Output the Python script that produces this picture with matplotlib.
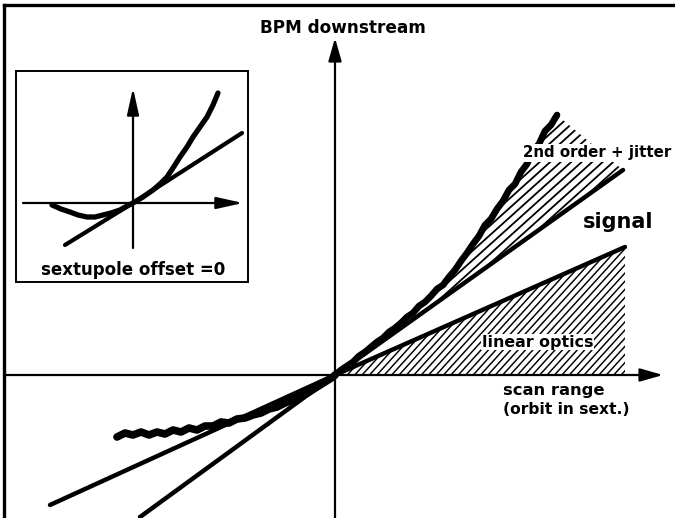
import numpy as np
import matplotlib
matplotlib.use('Agg')
import matplotlib.pyplot as plt
from matplotlib.patches import Polygon

# ---- data (arbitrary units, origin = crossing of the axes) ----
# measured BPM signal vs scan position (sextupole offset != 0)
scan_left = [-218, -210, -202, -194, -186, -178, -170, -162, -154, -146, -138, -130,
             -122, -114, -106, -98, -90, -82, -74, -66, -58, -50, -42, -34, -26, -18, -10, -2, 0]
bpm_left = [-62, -58, -60, -57, -60, -57, -59, -55, -57, -53, -55, -51,
            -51, -47, -48, -44, -43, -40, -38, -34, -32, -28, -25, -21, -17, -12, -7, -2, 0]
scan_right = [0, 6, 12, 18, 24, 30, 36, 42, 48, 54, 60, 66, 72, 78, 84, 90, 96, 102, 108,
              114, 120, 126, 132, 138, 144, 150, 156, 162, 168, 174, 180, 186, 192, 198,
              204, 210, 216, 222]
bpm_right = [0, 5, 9, 13, 19, 23, 28, 33, 37, 43, 47, 52, 58, 62, 69, 73, 79, 86, 90,
             98, 105, 114, 122, 131, 139, 150, 156, 166, 174, 185, 191, 203, 211, 224,
             231, 244, 250, 260]

# straight lines through the origin
steep_x = [-195, 0, 288]
steep_y = [-142, 0, 205]
lin_x = [-285, 0, 290]
lin_y = [-130, 0, 128]

# inset: sextupole offset = 0
in_x = [-81, -72, -63, -55, -46, -38, -30, -22, -13, -6, 0, 10, 20, 27, 34, 40, 47, 54, 60, 67, 74, 80, 85]
in_y = [-2, -6, -9, -12, -14, -14, -12, -10, -7, -3, 0, 6, 13, 19, 26, 35, 46, 56, 66, 76, 86, 98, 110]
in_line_x = [-68, 0, 109]
in_line_y = [-42, 0, 70]


def hatch(ax, px, py, step, slope=1.0, lw=1.2):
    # diagonal hatch lines clipped to a polygon
    patch = Polygon(np.column_stack([px, py]), closed=True, fc='none', ec='none')
    ax.add_patch(patch)
    v0, v1 = min(py) - 5, max(py) + 5
    du = (v1 - v0) / slope
    for c in np.arange(min(px) - du, max(px) + step, step):
        ln, = ax.plot([c, c + du], [v0, v1], color='black', lw=lw, zorder=1)
        ln.set_clip_path(patch)


fig = plt.figure(figsize=(6.75, 5.18), dpi=100)
ax = fig.add_axes([0, 0, 1, 1])
ax.set_xlim(-335, 340)
ax.set_ylim(-143, 375)
ax.axis('off')

# frame (top and left only)
ax.plot([0.006, 1.0], [0.990, 0.990], transform=ax.transAxes, color='black', lw=2.4, clip_on=False)
ax.plot([0.006, 0.006], [0.0, 0.990], transform=ax.transAxes, color='black', lw=2.4, clip_on=False)

# hatched regions
reg1_x = scan_right + [steep_x[-1]]
reg1_y = bpm_right + [steep_y[-1]]
hatch(ax, reg1_x, reg1_y, step=10.5, slope=0.9, lw=1.3)
reg2_x = [0, lin_x[-1], lin_x[-1]]
reg2_y = [0, lin_y[-1], 0]
hatch(ax, reg2_x, reg2_y, step=7.4, slope=1.1, lw=1.05)

# axes arrows
arr = dict(arrowstyle='-|>,head_length=0.7,head_width=0.2', color='black', lw=1.6,
           mutation_scale=20, shrinkA=0, shrinkB=0)
ax.annotate('', xy=(328, 0), xytext=(-331, 0), arrowprops=arr)
ax.annotate('', xy=(0, 337), xytext=(0, -143), arrowprops=arr)

# lines and measured curve
ax.plot(steep_x, steep_y, color='black', lw=3.2, solid_capstyle='round', zorder=3)
ax.plot(lin_x, lin_y, color='black', lw=3.2, solid_capstyle='round', zorder=3)
ax.plot(scan_left, bpm_left, color='black', lw=5.5, solid_capstyle='round', zorder=4)
ax.plot(scan_right, bpm_right, color='black', lw=4.8, solid_capstyle='round', zorder=4)

# labels
fw = 'bold'
ax.text(8, 347, 'BPM downstream', ha='center', va='center', fontsize=12.2, fontweight=fw)
ax.text(188, 222, '2nd order + jitter', ha='left', va='center', fontsize=10.8, fontweight=fw,
        bbox=dict(fc='white', ec='none', pad=1.0), zorder=5)
ax.text(248, 153, 'signal', ha='left', va='center', fontsize=15, fontweight=fw)
ax.text(147, 33, 'linear optics', ha='left', va='center', fontsize=11.4, fontweight=fw,
        bbox=dict(fc='white', ec='none', pad=0.5), zorder=5)
ax.text(168, -15, 'scan range', ha='left', va='center', fontsize=11.8, fontweight=fw)
ax.text(168, -35, '(orbit in sext.)', ha='left', va='center', fontsize=11.2, fontweight=fw)

# inset
ins = fig.add_axes([16 / 675, 1 - 282 / 518, 232 / 675, 211 / 518])
ins.set_xlim(-117, 115)
ins.set_ylim(-79, 132)
ins.set_xticks([])
ins.set_yticks([])
for s in ins.spines.values():
    s.set_linewidth(1.4)
arr_in = dict(arrowstyle='-|>,head_length=0.9,head_width=0.2', color='black', lw=1.6,
              mutation_scale=18, shrinkA=0, shrinkB=0)
ins.annotate('', xy=(110, 0), xytext=(-110, 0), arrowprops=arr_in)
ins.annotate('', xy=(0, 115), xytext=(0, -45), arrowprops=arr_in)
ins.plot(in_line_x, in_line_y, color='black', lw=3, solid_capstyle='round')
ins.plot(in_x, in_y, color='black', lw=3.8, solid_capstyle='round')
ins.text(0, -67, 'sextupole offset =0', ha='center', va='center', fontsize=12, fontweight=fw)

plt.savefig('out.png', dpi=100)
